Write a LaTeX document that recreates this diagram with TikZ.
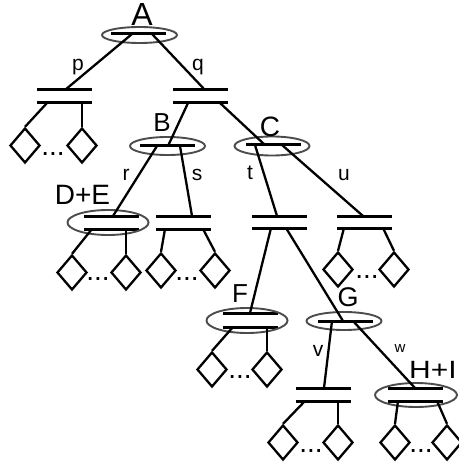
\documentclass[tikz,border=0pt]{standalone}
\usepackage{fontspec}
\setmainfont{Liberation Sans}
\usetikzlibrary{shapes.geometric,calc}
\begin{document}
\begin{tikzpicture}[x=1pt,y=-1pt,
  bar/.style={rectangle,fill=black,inner sep=0pt,minimum width=55pt,minimum height=3pt},
  edge/.style={line width=2.3pt},
  ring/.style={ellipse,draw=black!70,line width=1.9pt,inner sep=0pt},
  leaf/.style={diamond,draw,line width=2.3pt,inner sep=0pt,minimum width=30pt,minimum height=35pt},
  lbl/.style={inner sep=0pt,font=\fontsize{#1}{#1}\selectfont},
  dotrow/.style={inner sep=0pt,font=\fontsize{28}{28}\selectfont}]
\useasboundingbox (0,0) rectangle (458,470);

% bars
\node[bar] (A)   at (138.5,34) {};
\node[bar] (pT)  at (64.5,90) {};
\node[bar] (pB)  at (64.5,103) {};
\node[bar] (qT)  at (200.5,90) {};
\node[bar] (qB)  at (200.5,103) {};
\node[bar] (B)   at (167.5,146) {};
\node[bar] (C)   at (273.5,145) {};
\node[bar] (deT) at (111,216) {};
\node[bar] (deB) at (111,229) {};
\node[bar] (sT)  at (183.5,216) {};
\node[bar] (sB)  at (183.5,229) {};
\node[bar] (tT)  at (279,216) {};
\node[bar] (tB)  at (279,228) {};
\node[bar] (uT)  at (364.5,216) {};
\node[bar] (uB)  at (364.5,228) {};
\node[bar] (fT)  at (250,313) {};
\node[bar] (fB)  at (250,327) {};
\node[bar] (G)   at (345.5,321) {};
\node[bar] (vT)  at (323.5,388) {};
\node[bar] (vB)  at (323.5,401) {};
\node[bar] (hT)  at (415.5,388) {};
\node[bar] (hB)  at (415.5,401) {};

% ellipses
\node[ring,minimum width=75pt,minimum height=16pt] (eA) at (139.5,35) {};
\node[ring,minimum width=75pt,minimum height=18pt] (eB) at (167.5,146) {};
\node[ring,minimum width=75pt,minimum height=19pt] (eC) at (272,146) {};
\node[ring,minimum width=81pt,minimum height=25pt] (eDE) at (108,222.5) {};
\node[ring,minimum width=81pt,minimum height=25pt] (eF) at (247,320.5) {};
\node[ring,minimum width=75pt,minimum height=18pt] (eG) at (344,321) {};
\node[ring,minimum width=82pt,minimum height=24pt] (eHI) at (416,395) {};

% labels
\node[lbl=32] (labA)  at (142,14) {A};
\node[lbl=26] (labB)  at (162,123) {B};
\node[lbl=28] (labC)  at (270,127) {C};
\node[lbl=28] (labDE) at (82.5,195) {D+E};
\node[lbl=26] (labF)  at (240,294) {F};
\node[lbl=27] (labG)  at (348,297) {G};
\node[lbl=25] (labHI) at (433,370) {\scalebox{1.2}[1]{H+I}};
\node[lbl=21] (lp) at (78,67) {p};
\node[lbl=21] (lq) at (198,67) {q};
\node[lbl=21] (lr) at (126,175) {r};
\node[lbl=21] (ls) at (197,175) {s};
\node[lbl=21] (lt) at (250,173) {t};
\node[lbl=21] (lu) at (344,175) {u};
\node[lbl=21] (lv) at (318,351) {v};
\node[lbl=15] (lw) at (400,349) {w};

% tree edges
\draw[edge] ($(A.center)+(-6.5,0)$) -- ($(pT.center)+(0.5,0)$);
\draw[edge] ($(A.center)+(13.5,0)$) -- ($(qT.center)+(4.5,0)$);
\draw[edge] ($(qB.center)+(-12.5,0)$) -- ($(B.center)+(0.5,0)$);
\draw[edge] ($(qB.center)+(19.5,0)$) -- ($(C.center)+(-8.5,0)$);
\draw[edge] ($(B.center)+(-10.5,0)$) -- ($(deT.center)+(2,0)$);
\draw[edge] ($(B.center)+(12.5,0)$) -- ($(sT.center)+(8.5,0)$);
\draw[edge] ($(C.center)+(-18.5,0)$) -- ($(tT.center)+(-2,0)$);
\draw[edge] ($(C.center)+(8.5,0)$) -- ($(uT.center)+(-1.5,0)$);
\draw[edge] ($(tB.center)+(-8,0)$) -- (fT.center);
\draw[edge] ($(tB.center)+(7,0)$) -- ($(G.center)+(-2.5,0)$);
\draw[edge] ($(G.center)+(-13.5,0)$) -- ($(vT.center)+(0.5,0)$);
\draw[edge] ($(G.center)+(7.5,0)$) -- ($(hT.center)+(-0.5,0)$);

% leaves
\node[leaf] (pL) at (25,145.5) {};
\node[leaf] (pR) at (82,145.5) {};
\node[dotrow] (pD) at (53,154) {...};
\draw[edge] ($(pB.center)+(-17.5,0)$) -- (pL.north);
\draw[edge] ($(pB.center)+(17.5,0)$) -- (pR.north);

\node[leaf] (deL) at (72,272.5) {};
\node[leaf] (deR) at (126,272.5) {};
\node[dotrow] (deD) at (98,279) {...};
\draw[edge] ($(deB.center)+(-19,0)$) -- (deL.north);
\draw[edge] ($(deB.center)+(15,0)$) -- (deR.north);

\node[leaf] (sL) at (161,270.5) {};
\node[leaf] (sR) at (215,270.5) {};
\node[dotrow] (sD) at (187,279) {...};
\draw[edge] ($(sB.center)+(-18.5,0)$) -- (sL.north);
\draw[edge] ($(sB.center)+(19.5,0)$) -- (sR.north);

\node[leaf] (uL) at (338,269.5) {};
\node[leaf] (uR) at (394,269.5) {};
\node[dotrow] (uD) at (367,277) {...};
\draw[edge] ($(uB.center)+(-20.5,0)$) -- (uL.north);
\draw[edge] ($(uB.center)+(18.5,0)$) -- (uR.north);

\node[leaf] (fL) at (212,369.5) {};
\node[leaf] (fR) at (267,369.5) {};
\node[dotrow] (fD) at (240,377) {...};
\draw[edge] ($(fB.center)+(-17,0)$) -- (fL.north);
\draw[edge] ($(fB.center)+(17,0)$) -- (fR.north);

\node[leaf] (vL) at (283,442.5) {};
\node[leaf] (vR) at (338,442.5) {};
\node[dotrow] (vD) at (311,451) {...};
\draw[edge] ($(vB.center)+(-18.5,0)$) -- (vL.north);
\draw[edge] ($(vB.center)+(14.5,0)$) -- (vR.north);

\node[leaf] (hL) at (395,442.5) {};
\node[leaf] (hR) at (447,442.5) {};
\node[dotrow] (hD) at (421,451) {...};
\draw[edge] ($(hB.center)+(-17.5,0)$) -- (hL.north);
\draw[edge] ($(hB.center)+(21.5,0)$) -- (hR.north);
\end{tikzpicture}
\end{document}
